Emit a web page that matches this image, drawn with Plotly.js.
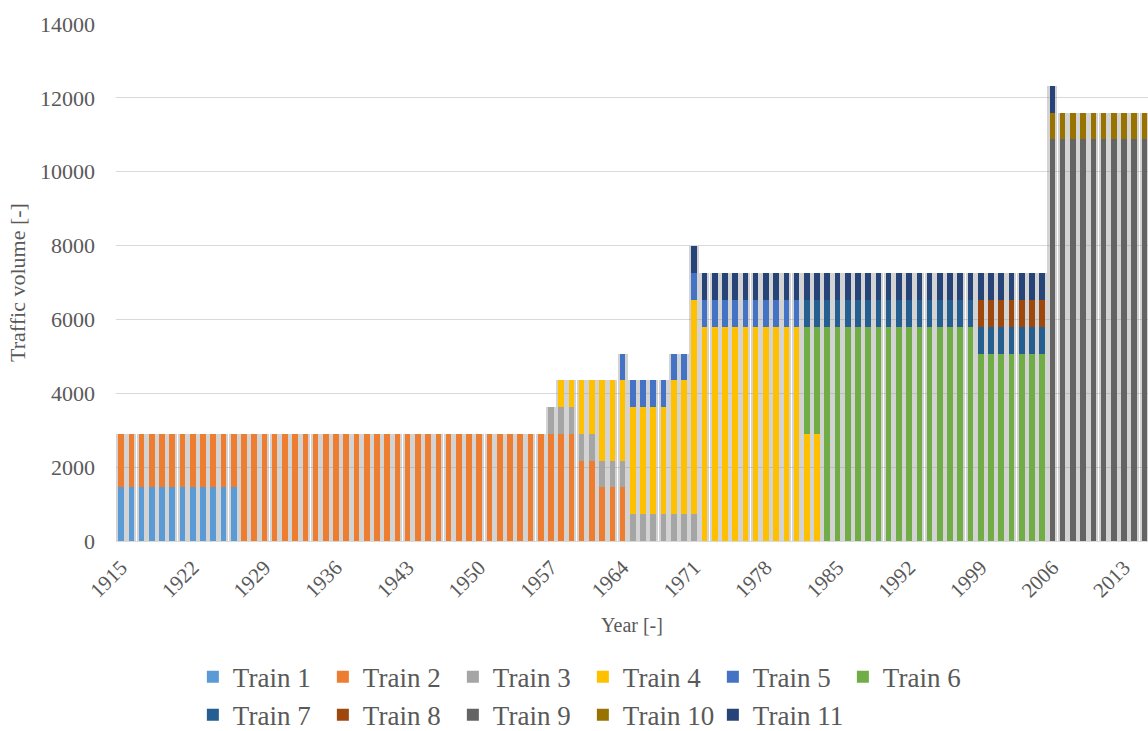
<!DOCTYPE html>
<html>
<head>
<meta charset="utf-8">
<script src="https://cdn.plot.ly/plotly-3.0.1.min.js"></script>
<style>
html,body{margin:0;padding:0;background:#fff;}
#chart{width:1148px;height:731px;}
</style>
</head>
<body>
<div id="chart"></div>
<script>
const years = [
1915,1916,1917,1918,1919,1920,1921,1922,1923,1924,
1925,1926,1927,1928,1929,1930,1931,1932,1933,1934,
1935,1936,1937,1938,1939,1940,1941,1942,1943,1944,
1945,1946,1947,1948,1949,1950,1951,1952,1953,1954,
1955,1956,1957,1958,1959,1960,1961,1962,1963,1964,
1965,1966,1967,1968,1969,1970,1971,1972,1973,1974,
1975,1976,1977,1978,1979,1980,1981,1982,1983,1984,
1985,1986,1987,1988,1989,1990,1991,1992,1993,1994,
1995,1996,1997,1998,1999,2000,2001,2002,2003,2004,
2005,2006,2007,2008,2009,2010,2011,2012,2013,2014,
2015];

const train1 = [
1450,1450,1450,1450,1450,1450,1450,1450,1450,1450,
1450,1450,0,0,0,0,0,0,0,0,
0,0,0,0,0,0,0,0,0,0,
0,0,0,0,0,0,0,0,0,0,
0,0,0,0,0,0,0,0,0,0,
0,0,0,0,0,0,0,0,0,0,
0,0,0,0,0,0,0,0,0,0,
0,0,0,0,0,0,0,0,0,0,
0,0,0,0,0,0,0,0,0,0,
0,0,0,0,0,0,0,0,0,0,
0];

const train2 = [
1450,1450,1450,1450,1450,1450,1450,1450,1450,1450,
1450,1450,2900,2900,2900,2900,2900,2900,2900,2900,
2900,2900,2900,2900,2900,2900,2900,2900,2900,2900,
2900,2900,2900,2900,2900,2900,2900,2900,2900,2900,
2900,2900,2900,2900,2900,2175,2175,1450,1450,1450,
0,0,0,0,0,0,0,0,0,0,
0,0,0,0,0,0,0,0,0,0,
0,0,0,0,0,0,0,0,0,0,
0,0,0,0,0,0,0,0,0,0,
0,0,0,0,0,0,0,0,0,0,
0];

const train3 = [
0,0,0,0,0,0,0,0,0,0,
0,0,0,0,0,0,0,0,0,0,
0,0,0,0,0,0,0,0,0,0,
0,0,0,0,0,0,0,0,0,0,
0,0,725,725,725,725,725,725,725,725,
725,725,725,725,725,725,725,0,0,0,
0,0,0,0,0,0,0,0,0,0,
0,0,0,0,0,0,0,0,0,0,
0,0,0,0,0,0,0,0,0,0,
0,0,0,0,0,0,0,0,0,0,
0];

const train4 = [
0,0,0,0,0,0,0,0,0,0,
0,0,0,0,0,0,0,0,0,0,
0,0,0,0,0,0,0,0,0,0,
0,0,0,0,0,0,0,0,0,0,
0,0,0,725,725,1450,1450,2175,2175,2175,
2900,2900,2900,2900,3625,3625,5800,5800,5800,5800,
5800,5800,5800,5800,5800,5800,5800,2900,2900,0,
0,0,0,0,0,0,0,0,0,0,
0,0,0,0,0,0,0,0,0,0,
0,0,0,0,0,0,0,0,0,0,
0];

const train5 = [
0,0,0,0,0,0,0,0,0,0,
0,0,0,0,0,0,0,0,0,0,
0,0,0,0,0,0,0,0,0,0,
0,0,0,0,0,0,0,0,0,0,
0,0,0,0,0,0,0,0,0,725,
725,725,725,725,725,725,725,725,725,725,
725,725,725,725,725,725,725,0,0,0,
0,0,0,0,0,0,0,0,0,0,
0,0,0,0,0,0,0,0,0,0,
0,0,0,0,0,0,0,0,0,0,
0];

const train6 = [
0,0,0,0,0,0,0,0,0,0,
0,0,0,0,0,0,0,0,0,0,
0,0,0,0,0,0,0,0,0,0,
0,0,0,0,0,0,0,0,0,0,
0,0,0,0,0,0,0,0,0,0,
0,0,0,0,0,0,0,0,0,0,
0,0,0,0,0,0,0,2900,2900,5800,
5800,5800,5800,5800,5800,5800,5800,5800,5800,5800,
5800,5800,5800,5800,5075,5075,5075,5075,5075,5075,
5075,0,0,0,0,0,0,0,0,0,
0];

const train7 = [
0,0,0,0,0,0,0,0,0,0,
0,0,0,0,0,0,0,0,0,0,
0,0,0,0,0,0,0,0,0,0,
0,0,0,0,0,0,0,0,0,0,
0,0,0,0,0,0,0,0,0,0,
0,0,0,0,0,0,0,0,0,0,
0,0,0,0,0,0,0,725,725,725,
725,725,725,725,725,725,725,725,725,725,
725,725,725,725,725,725,725,725,725,725,
725,0,0,0,0,0,0,0,0,0,
0];

const train8 = [
0,0,0,0,0,0,0,0,0,0,
0,0,0,0,0,0,0,0,0,0,
0,0,0,0,0,0,0,0,0,0,
0,0,0,0,0,0,0,0,0,0,
0,0,0,0,0,0,0,0,0,0,
0,0,0,0,0,0,0,0,0,0,
0,0,0,0,0,0,0,0,0,0,
0,0,0,0,0,0,0,0,0,0,
0,0,0,0,725,725,725,725,725,725,
725,0,0,0,0,0,0,0,0,0,
0];

const train9 = [
0,0,0,0,0,0,0,0,0,0,
0,0,0,0,0,0,0,0,0,0,
0,0,0,0,0,0,0,0,0,0,
0,0,0,0,0,0,0,0,0,0,
0,0,0,0,0,0,0,0,0,0,
0,0,0,0,0,0,0,0,0,0,
0,0,0,0,0,0,0,0,0,0,
0,0,0,0,0,0,0,0,0,0,
0,0,0,0,0,0,0,0,0,0,
0,10875,10875,10875,10875,10875,10875,10875,10875,10875,
10875];

const train10 = [
0,0,0,0,0,0,0,0,0,0,
0,0,0,0,0,0,0,0,0,0,
0,0,0,0,0,0,0,0,0,0,
0,0,0,0,0,0,0,0,0,0,
0,0,0,0,0,0,0,0,0,0,
0,0,0,0,0,0,0,0,0,0,
0,0,0,0,0,0,0,0,0,0,
0,0,0,0,0,0,0,0,0,0,
0,0,0,0,0,0,0,0,0,0,
0,725,725,725,725,725,725,725,725,725,
725];

const train11 = [
0,0,0,0,0,0,0,0,0,0,
0,0,0,0,0,0,0,0,0,0,
0,0,0,0,0,0,0,0,0,0,
0,0,0,0,0,0,0,0,0,0,
0,0,0,0,0,0,0,0,0,0,
0,0,0,0,0,0,725,725,725,725,
725,725,725,725,725,725,725,725,725,725,
725,725,725,725,725,725,725,725,725,725,
725,725,725,725,725,725,725,725,725,725,
725,725,0,0,0,0,0,0,0,0,
0];

const seriesNames = ['Train 1','Train 2','Train 3','Train 4','Train 5','Train 6',
                     'Train 7','Train 8','Train 9','Train 10','Train 11'];
const seriesValues = [train1,train2,train3,train4,train5,train6,train7,train8,train9,train10,train11];
const seriesColors = ['#5B9BD5','#ED7D31','#A5A5A5','#FFC000','#4472C4','#70AD47',
                      '#255E91','#9E480E','#646464','#997300','#264478'];

const tickYears = [1915,1922,1929,1936,1943,1950,1957,1964,1971,1978,1985,1992,1999,2006,2013];

const totals = years.map((_, i) => seriesValues.reduce((s, arr) => s + arr[i], 0));

const traces = [];
// soft shadow behind the bars (Excel-style shadow effect)
traces.push({
  type: 'bar', x: years, y: totals, xaxis: 'x', yaxis: 'y',
  width: 0.98, marker: {color: 'rgba(150,150,150,0.42)'},
  showlegend: false, hoverinfo: 'skip'
});
seriesNames.forEach((name, k) => {
  traces.push({
    type: 'bar', name: name, x: years, y: seriesValues[k],
    xaxis: 'x2', yaxis: 'y', width: 0.55,
    legend: k < 6 ? 'legend' : 'legend2',
    marker: {color: seriesColors[k], line: {width: 0}}
  });
});

const fontFam = '"Liberation Serif", "Times New Roman", serif';
const range = [1914.5, 2015.34];
const legendFont = {family: fontFam, size: 27, color: '#595959'};

const layout = {
  width: 1148, height: 731,
  margin: {l: 116, r: 0, t: 24, b: 190},
  paper_bgcolor: '#ffffff', plot_bgcolor: '#ffffff',
  barmode: 'stack',
  bargap: 0,
  font: {family: fontFam, color: '#595959', size: 22},
  xaxis: {
    range: range, tickmode: 'array', tickvals: tickYears,
    ticktext: tickYears.map(String), tickangle: -45,
    showgrid: false, zeroline: false, showline: true, linecolor: '#d9d9d9', linewidth: 1,
    ticks: '', automargin: false, ticklabelstandoff: 5,
    tickfont: {family: fontFam, size: 21, color: '#595959'},
    title: {text: 'Year [-]', font: {family: fontFam, size: 20, color: '#595959'}, standoff: 16}
  },
  xaxis2: {range: range, overlaying: 'x', visible: false, showgrid: false, zeroline: false},
  yaxis: {
    range: [0, 14000], dtick: 2000, tick0: 0, tickformat: 'd',
    showgrid: true, gridcolor: '#d9d9d9', gridwidth: 1,
    zeroline: false, showline: false, ticks: '', automargin: false,
    ticklabelstandoff: 20,
    tickfont: {family: fontFam, size: 22, color: '#595959'},
    title: {text: 'Traffic volume [-]', font: {family: fontFam, size: 22, color: '#595959'}, standoff: 8}
  },
  legend: {
    orientation: 'h', xref: 'container', yref: 'container',
    x: 0.168, xanchor: 'left', y: 0.107, yanchor: 'top',
    font: legendFont, entrywidth: 85, entrywidthmode: 'pixels',
    traceorder: 'normal', bgcolor: 'rgba(0,0,0,0)'
  },
  legend2: {
    orientation: 'h', xref: 'container', yref: 'container',
    x: 0.168, xanchor: 'left', y: 0.055, yanchor: 'top',
    font: legendFont, entrywidth: 85, entrywidthmode: 'pixels',
    traceorder: 'normal', bgcolor: 'rgba(0,0,0,0)'
  },
  showlegend: true
};

Plotly.newPlot('chart', traces, layout, {displayModeBar: false, responsive: false});
</script>
</body>
</html>
